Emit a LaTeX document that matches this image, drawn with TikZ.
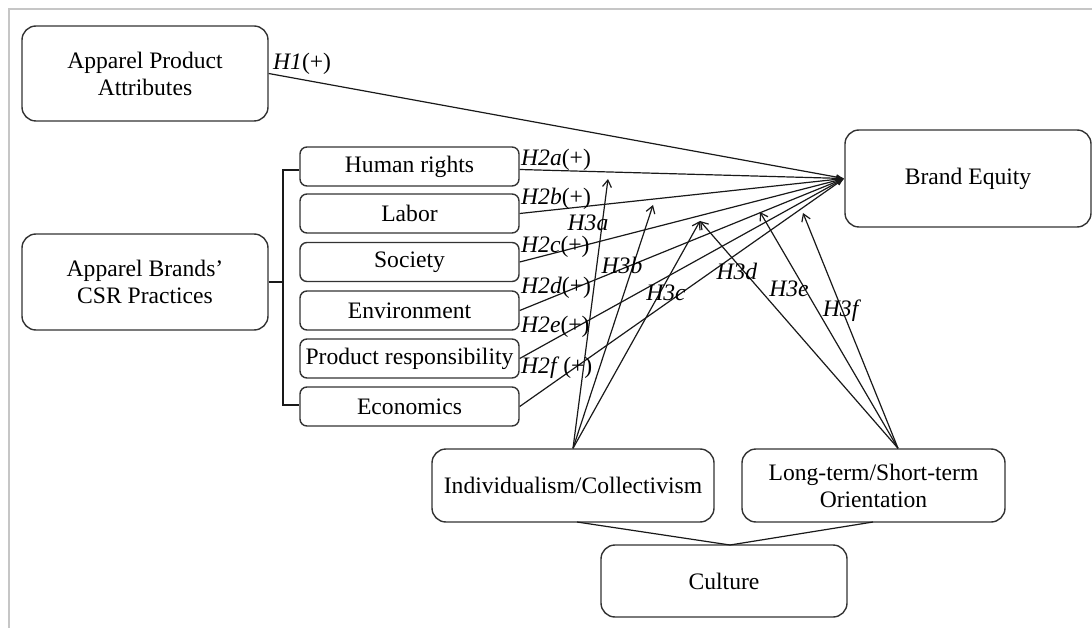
\documentclass[tikz,border=0pt]{standalone}
\usepackage{fontspec}
\setmainfont{Liberation Serif}
\usetikzlibrary{arrows.meta,calc}
\begin{document}
\begin{tikzpicture}[x=1pt,y=-1pt,
  every node/.style={font=\fontsize{23.6}{27}\selectfont},
  bigbox/.style={draw=black!80,line width=1.4pt,rounded corners=14pt,inner sep=0pt,align=center,minimum width=246pt},
  smallbox/.style={draw=black!80,line width=1.4pt,rounded corners=7pt,inner sep=0pt,align=center,minimum width=219pt,minimum height=39pt},
  link/.style={line width=1.2pt,black!90},
  toBE/.style={link,-{Latex[length=8pt,width=6pt]}},
  modarrow/.style={link,-{Straight Barb[length=7pt,width=9pt]}},
  hlabel/.style={anchor=west,inner sep=0pt},
  h3label/.style={inner sep=0pt},
  frameline/.style={line width=2pt,gray!45}
]
\useasboundingbox (0,0) rectangle (1092,628);
% frame
\draw[frameline] (8,9.5) -- (1092,9.5);
\draw[frameline] (9,8.5) -- (9,628);

% boxes
\node[bigbox,minimum height=95pt] (APA) at (145,73.5) {Apparel Product\\Attributes};
\node[bigbox,minimum height=96pt] (CSR) at (145,282) {Apparel Brands’\\CSR Practices};
\node[smallbox] (HR) at (409.5,166.5) {Human rights};
\node[smallbox] (LAB) at (409.5,213.5) {Labor};
\node[smallbox] (SOC) at (409.5,262) {Society};
\node[smallbox] (ENV) at (409.5,310.5) {Environment};
\node[smallbox] (PR) at (409.5,358.5) {Product responsibility};
\node[smallbox] (ECO) at (409.5,406.5) {Economics};
\node[bigbox,minimum height=97pt] (BE) at (968,178.5) {Brand Equity};
\node[bigbox,minimum width=282pt,minimum height=73pt] (IC) at (573,485.5) {Individualism/Collectivism};
\node[bigbox,minimum width=263pt,minimum height=73pt] (LT) at (873.5,485.5) {Long-term/Short-term\\Orientation};
\node[bigbox,minimum height=72pt] (CUL) at (724,581) {Culture};

% bracket
\coordinate (brT) at (283,170);
\coordinate (brB) at (283,405);
\coordinate (brM) at (283,282);
\draw[link] (HR.west |- brT) -- (brT) -- (brB) -- (ECO.west |- brB);
\draw[link] (CSR.east) -- (brM);

% H1, H2 arrows
\draw[toBE] (APA.east) -- (BE.west);
\draw[toBE] ($(HR.east)+(0,3)$) -- (BE.west);
\foreach \n in {LAB,SOC,ENV,PR,ECO}{
  \draw[toBE] (\n.east) -- (BE.west);
}

% H3 arrows
\coordinate (ICtop) at (IC.north);
\coordinate (LTtop) at ($(LT.north)+(24.5,0)$);
\coordinate (t3a) at (608,179);
\coordinate (t3b) at (653,205);
\coordinate (t3c) at (700,221);
\coordinate (t3e) at (760,212);
\coordinate (t3f) at (803,213);
\draw[modarrow] (ICtop) -- (t3a);
\draw[modarrow] (ICtop) -- (t3b);
\draw[modarrow] (ICtop) -- (t3c);
\draw[modarrow] (LTtop) -- (t3c);
\draw[modarrow] (LTtop) -- (t3e);
\draw[modarrow] (LTtop) -- (t3f);

% culture links
\coordinate (culTop) at (730,545);
\coordinate (icB) at (577,522);
\coordinate (ltB) at (873,522);
\draw[link] (icB) -- (culTop);
\draw[link] (ltB) -- (culTop);

% labels
\node[hlabel] (lH1) at (273,64) {\textit{H1}(+)};
\node[hlabel] (lH2a) at (521,160) {\textit{H2a}(+)};
\node[hlabel] (lH2b) at (521,199) {\textit{H2b}(+)};
\node[hlabel] (lH2c) at (521,247) {\textit{H2c}(+)};
\node[hlabel] (lH2d) at (521,288) {\textit{H2d}(+)};
\node[hlabel] (lH2e) at (521,327) {\textit{H2e}(+)};
\node[hlabel] (lH2f) at (521,368) {\textit{H2f}\,(+)};
\node[h3label] (lH3a) at (588,222.5) {\textit{H3a}};
\node[h3label] (lH3b) at (622,265) {\textit{H3b}};
\node[h3label] (lH3c) at (666,293) {\textit{H3c}};
\node[h3label] (lH3d) at (737,271) {\textit{H3d}};
\node[h3label] (lH3e) at (789,289) {\textit{H3e}};
\node[h3label] (lH3f) at (842,311) {\textit{H3f}};
\end{tikzpicture}
\end{document}
